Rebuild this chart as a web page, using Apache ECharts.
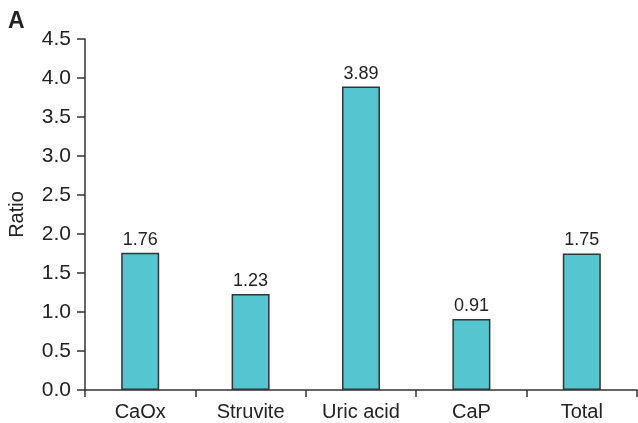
<!DOCTYPE html>
<html><head><meta charset="utf-8">
<script src="https://cdn.jsdelivr.net/npm/echarts@6/dist/echarts.min.js"></script>
<style>html,body{margin:0;padding:0;background:#fff}#c{width:638px;height:423px}</style>
</head><body><div id="c"></div>
<script>
var categories = ['CaOx', 'Struvite', 'Uric acid', 'CaP', 'Total'];
var ratios = [1.76, 1.23, 3.89, 0.91, 1.75];
var yTicks = [0, 0.5, 1.0, 1.5, 2.0, 2.5, 3.0, 3.5, 4.0, 4.5];

var chart = echarts.init(document.getElementById('c'));
var font = 'Liberation Sans, Arial, sans-serif';
chart.setOption({
  animation: false,
  graphic: [{type: 'text', left: 8, top: 10, style: {text: 'A', font: 'bold 23px ' + font, fill: '#222'}}],
  grid: {left: 85, right: 1, top: 39, bottom: 33, containLabel: false, outerBoundsMode: 'none'},
  xAxis: {
    type: 'category', data: categories,
    axisLine: {lineStyle: {color: '#333', width: 1.5}},
    axisTick: {show: true, length: 7, lineStyle: {color: '#333', width: 1.5}},
    axisLabel: {fontSize: 20, color: '#222', fontFamily: font, margin: 12}
  },
  yAxis: {
    type: 'value', min: yTicks[0], max: yTicks[yTicks.length - 1], interval: 0.5,
    name: 'Ratio', nameLocation: 'middle', nameGap: 58,
    nameTextStyle: {fontSize: 20, color: '#222', fontFamily: font},
    splitLine: {show: false},
    axisLine: {show: true, lineStyle: {color: '#333', width: 1.5}},
    axisTick: {show: true, length: 8, lineStyle: {color: '#333', width: 1.5}},
    axisLabel: {fontSize: 21, color: '#222', fontFamily: font, margin: 14,
      formatter: function (v) { return v.toFixed(1); }}
  },
  series: [{
    type: 'bar', data: ratios, barWidth: 38,
    itemStyle: {color: '#55c5cf', borderColor: '#333', borderWidth: 1.5},
    label: {show: true, position: 'top', fontSize: 18, color: '#222', fontFamily: font, distance: 4,
      formatter: function (p) { return p.value.toFixed(2); }}
  }]
});
</script></body></html>
